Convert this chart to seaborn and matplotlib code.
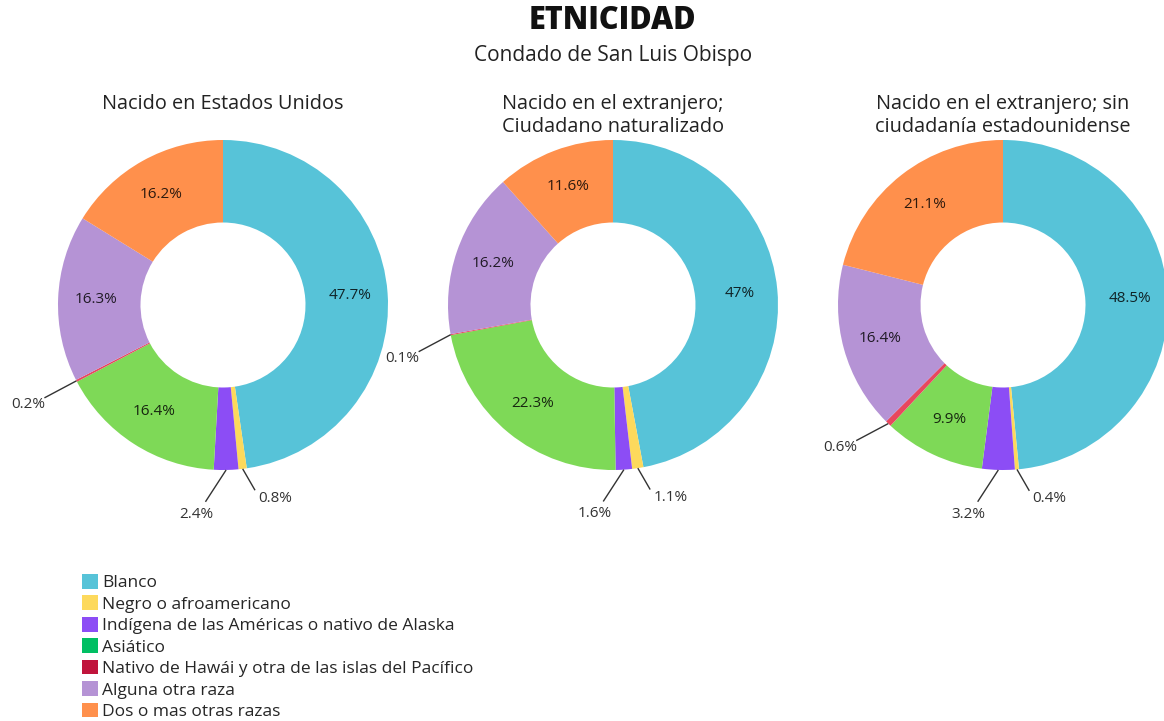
import matplotlib
matplotlib.use('Agg')
import matplotlib.pyplot as plt
import numpy as np
import seaborn as sns
from matplotlib.patches import Patch

# ---------------- data ----------------
categories = [
    'Blanco',
    'Negro o afroamericano',
    'Indígena de las Américas o nativo de Alaska',
    'Asiático',
    'Nativo de Hawái y otra de las islas del Pacífico',
    'Alguna otra raza',
    'Dos o mas otras razas',
]
panel_titles = [
    'Nacido en Estados Unidos',
    'Nacido en el extranjero;\nCiudadano naturalizado',
    'Nacido en el extranjero; sin\nciudadanía estadounidense',
]
us_born = [47.7, 0.8, 2.4, 16.4, 0.2, 16.3, 16.2]
naturalized = [47, 1.1, 1.6, 22.3, 0.1, 16.2, 11.6]
non_citizen = [48.5, 0.4, 3.2, 9.9, 0.6, 16.4, 21.1]
title = 'ETNICIDAD'
subtitle = 'Condado de San Luis Obispo'

# ---------------- style ----------------
sns.set_theme(style='white')
plt.rcParams['font.family'] = ['Open Sans', 'DejaVu Sans']

slice_colors = sns.color_palette(['#57C3D8', '#FDD95C', '#8C4DF5', '#7ED957',
                                  '#E8475E', '#B593D5', '#FF904C'])
legend_colors = sns.color_palette(['#57C3D8', '#FDD95C', '#8C4DF5', '#00BF63',
                                   '#C0143C', '#B593D5', '#FF904C'])

W, H = 1164, 721
fig = plt.figure(figsize=(W / 100, H / 100), dpi=100)
fig.patch.set_facecolor('white')

centers_px = [(223, 305), (613, 305), (1003, 305)]
R_px = 165
L = 1.45
half = L * R_px

# leader-line styles for small slices (by category index)
leader_style = {
    1: dict(angle=150, length=0.15, ha='left', va='center', offset=(3, -8)),
    2: dict(angle=213, length=0.23, ha='center', va='top', offset=(-9, -5)),
    4: dict(angle=242, length=0.22, ha='right', va='center', offset=(1, -7)),
}

series = [us_born, naturalized, non_citizen]
for vals, (cx, cy), ptitle in zip(series, centers_px, panel_titles):
    ax = fig.add_axes([(cx - half) / W, (H - cy - half) / H, 2 * half / W, 2 * half / H])
    ax.pie(vals, colors=slice_colors, startangle=90, counterclock=False, radius=1,
           wedgeprops=dict(width=0.5, edgecolor='none', linewidth=0))
    ax.set_xlim(-L, L)
    ax.set_ylim(-L, L)
    ax.set_aspect('equal')
    ax.axis('off')

    total = float(np.sum(vals))
    cum = 0.0
    for i, v in enumerate(vals):
        mid = (cum + v / 2) / total * 360.0
        cum += v
        label = f'{v:g}%'
        if v >= 5:
            r = 0.77
            th = np.deg2rad(mid)
            ax.text(r * np.sin(th), r * np.cos(th), label, ha='center', va='center',
                    fontsize=11, color='black', alpha=0.82)
        else:
            st = leader_style[i]
            th = np.deg2rad(mid)
            x0, y0 = np.sin(th), np.cos(th)
            ph = np.deg2rad(st['angle'])
            x1, y1 = x0 + st['length'] * np.sin(ph), y0 + st['length'] * np.cos(ph)
            ax.plot([x0, x1], [y0, y1], color='#333333', lw=1.0, solid_capstyle='butt')
            ax.annotate(label, xy=(x1, y1), xytext=st['offset'], textcoords='offset pixels',
                        ha=st['ha'], va=st['va'], fontsize=11, color='#333333')

    fig.text(cx / W, 1 - 94 / H, ptitle, ha='center', va='top', fontsize=14.3,
             color='#222222', linespacing=1.2)

fig.text(612 / W, 1 - 21 / H, title, ha='center', va='center', fontsize=22,
         fontweight='heavy', color='#111111')
fig.text(613 / W, 1 - 55 / H, subtitle, ha='center', va='center', fontsize=15,
         color='#222222')

handles = [Patch(facecolor=c, edgecolor='none') for c in legend_colors]
fig.legend(handles, categories, loc='upper left', bbox_to_anchor=(82 / W, 1 - 574 / H),
           frameon=False, fontsize=12.5, handlelength=0.92, handleheight=0.92,
           handletextpad=0.25, labelspacing=0.24, borderpad=0, borderaxespad=0)

fig.savefig('out.png', dpi=100, facecolor='white')
